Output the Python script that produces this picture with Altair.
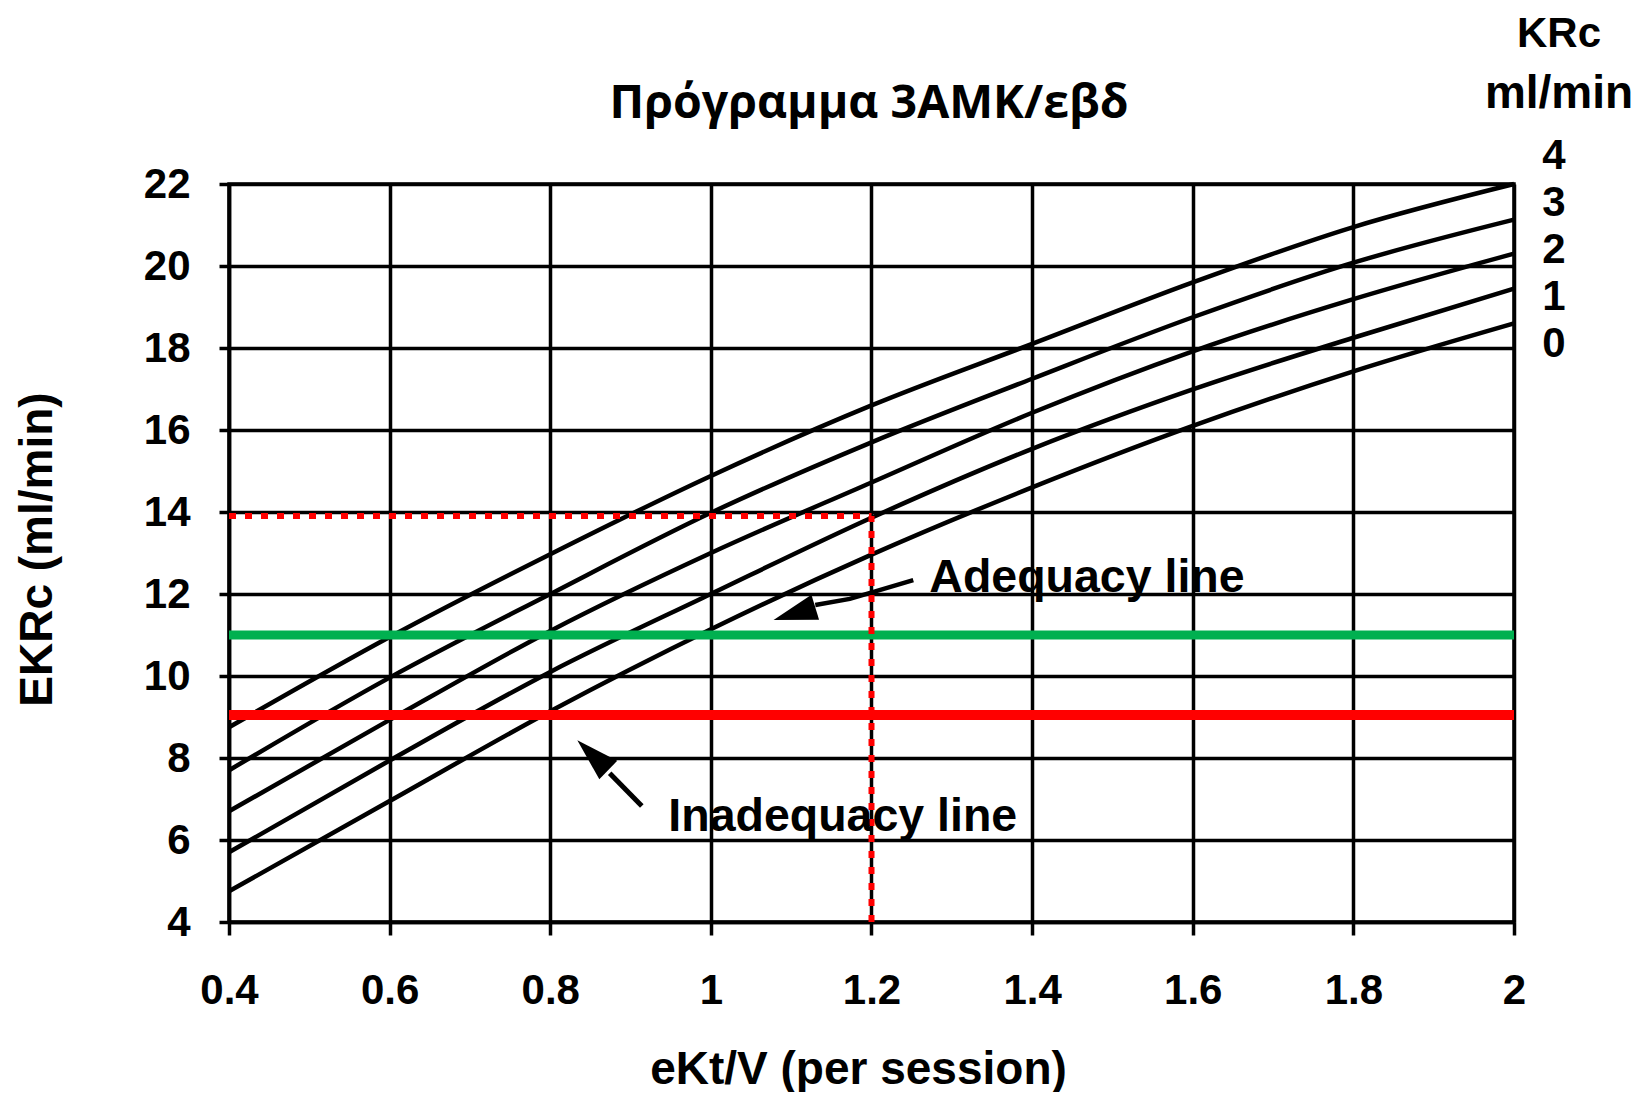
import altair as alt
import pandas as pd

# ---- data ----
ektv = [0.4, 0.6, 0.8, 1.0, 1.2, 1.4, 1.6, 1.8, 2.0]
krc_levels = ["4", "3", "2", "1", "0"]
ekrc_krc4 = [8.75, 10.95, 12.97, 14.88, 16.6, 18.1, 19.6, 20.95, 22.0]
ekrc_krc3 = [7.7, 9.96, 12.0, 13.98, 15.7, 17.25, 18.75, 20.08, 21.13]
ekrc_krc2 = [6.7, 8.93, 11.1, 13.0, 14.72, 16.42, 17.92, 19.19, 20.3]
ekrc_krc1 = [5.7, 7.94, 10.1, 12.0, 13.86, 15.54, 16.99, 18.25, 19.45]
ekrc_krc0 = [4.75, 6.95, 9.14, 11.14, 12.96, 14.6, 16.1, 17.43, 18.6]

adequacy_level = 11.0
inadequacy_level = 9.05
example_ektv = 1.2
example_ekrc = 13.9

x_ticks = [0.4, 0.6, 0.8, 1.0, 1.2, 1.4, 1.6, 1.8, 2.0]
y_ticks = [4, 6, 8, 10, 12, 14, 16, 18, 20, 22]

title_text = "Πρόγραμμα 3ΑΜΚ/εβδ"
x_title = "eKt/V (per session)"
y_title = "EKRc (ml/min)"
legend_head = ["KRc", "ml/min"]

# annotation anchors (data coordinates)
adequacy_label = {"x": 1.272, "y": 12.05, "t": "Adequacy line"}
inadequacy_label = {"x": 0.947, "y": 6.22, "t": "Inadequacy line"}
adequacy_shaft_x = [1.130, 1.173, 1.211, 1.252]
adequacy_shaft_y = [11.73, 11.88, 12.10, 12.34]
adequacy_head = {"x": 1.104, "y": 11.52}
inadequacy_shaft_x = [0.874, 0.914]
inadequacy_shaft_y = [7.63, 6.83]
inadequacy_head = {"x": 0.853, "y": 8.07}

# ---- build tables ----
rows = []
for lvl, vals in zip(krc_levels, [ekrc_krc4, ekrc_krc3, ekrc_krc2, ekrc_krc1, ekrc_krc0]):
    for xv, yv in zip(ektv, vals):
        rows.append({"eKtV": xv, "EKRc": yv, "KRc": lvl})
curves_df = pd.DataFrame(rows)

W, H = 1285, 738
FONT = "Liberation Sans"
xscale = alt.Scale(domain=[x_ticks[0], x_ticks[-1]], nice=False, zero=False)
yscale = alt.Scale(domain=[y_ticks[0], y_ticks[-1]], nice=False, zero=False)

xaxis = alt.Axis(values=x_ticks, format="~g", title=x_title, labelFlush=False,
                 tickSize=13, labelPadding=35, titleX=629, titleY=161,
                 titleBaseline="alphabetic", titleAlign="center", titleFontSize=46)
yaxis = alt.Axis(values=y_ticks, title=y_title, labelFlush=False, tickSize=10,
                 labelPadding=29, titleAngle=270, titleX=-192, titleY=365,
                 titleAlign="center", titleBaseline="middle", titleFontSize=46)

curves = alt.Chart(curves_df).mark_line(color="black", strokeWidth=4.5, interpolate="monotone").encode(
    x=alt.X("eKtV:Q", scale=xscale, axis=xaxis),
    y=alt.Y("EKRc:Q", scale=yscale, axis=yaxis),
    detail="KRc:N",
)

hl_df = pd.DataFrame({"x": [x_ticks[0], x_ticks[0]], "x2": [x_ticks[-1], x_ticks[-1]],
                      "y": [adequacy_level, inadequacy_level], "kind": ["adequacy", "inadequacy"]})
green = alt.Chart(hl_df[hl_df.kind == "adequacy"]).mark_rule(color="#00b050", strokeWidth=9).encode(
    x="x:Q", x2="x2:Q", y="y:Q")
red = alt.Chart(hl_df[hl_df.kind == "inadequacy"]).mark_rule(color="#ff0000", strokeWidth=10).encode(
    x="x:Q", x2="x2:Q", y="y:Q")

ex_df = pd.DataFrame({"x": [x_ticks[0]], "xe": [example_ektv], "y0": [y_ticks[0]], "ye": [example_ekrc]})
dot_h = alt.Chart(ex_df).mark_rule(color="#ff0000", strokeWidth=6, strokeDash=[7, 9]).encode(
    x="x:Q", x2="xe:Q", y="ye:Q")
dot_v = alt.Chart(ex_df).mark_rule(color="#ff0000", strokeWidth=6, strokeDash=[7, 9]).encode(
    x="xe:Q", y="y0:Q", y2="ye:Q")

ad_shaft = alt.Chart(pd.DataFrame({"x": adequacy_shaft_x, "y": adequacy_shaft_y, "o": range(4)})).mark_line(
    color="black", strokeWidth=4.5).encode(x="x:Q", y="y:Q", order="o:Q")
in_shaft = alt.Chart(pd.DataFrame({"x": inadequacy_shaft_x, "y": inadequacy_shaft_y, "o": range(2)})).mark_line(
    color="black", strokeWidth=5).encode(x="x:Q", y="y:Q", order="o:Q")

HEAD = "M-1,0L1,-0.6L1,0.6Z"
ad_head = alt.Chart(pd.DataFrame([adequacy_head])).mark_point(
    shape=HEAD, filled=True, color="black", opacity=1, size=1900, angle=343, strokeWidth=0).encode(
    x="x:Q", y="y:Q")
in_head = alt.Chart(pd.DataFrame([inadequacy_head])).mark_point(
    shape=HEAD, filled=True, color="black", opacity=1, size=1850, angle=44, strokeWidth=0).encode(
    x="x:Q", y="y:Q")

ad_text = alt.Chart(pd.DataFrame([adequacy_label])).mark_text(
    font=FONT, fontSize=46.5, fontWeight="bold", align="left", baseline="alphabetic", color="black").encode(
    x="x:Q", y="y:Q", text="t:N")
in_text = alt.Chart(pd.DataFrame([inadequacy_label])).mark_text(
    font=FONT, fontSize=46.5, fontWeight="bold", align="left", baseline="alphabetic", color="black").encode(
    x="x:Q", y="y:Q", text="t:N")

# chart heading (pixel position relative to the plot area)
heading = alt.Chart(pd.DataFrame({"t": [title_text]})).mark_text(
    font="Open Sans", fontSize=46.5, fontWeight="bold", align="center", baseline="alphabetic",
    color="black").encode(text="t:N", x=alt.value(640), y=alt.value(-66))

# right-hand KRc labels (pixel positions relative to the plot area)
side_layers = []
head_y = [-137, -76]
head_size = [42, 46]
for txt, py, fs in zip(legend_head, head_y, head_size):
    side_layers.append(alt.Chart(pd.DataFrame({"t": [txt]})).mark_text(
        font=FONT, fontSize=fs, fontWeight="bold", align="center", baseline="alphabetic", color="black").encode(
        text="t:N", x=alt.value(W + 45), y=alt.value(py)))
for i, lvl in enumerate(krc_levels):
    side_layers.append(alt.Chart(pd.DataFrame({"t": [lvl]})).mark_text(
        font=FONT, fontSize=42, fontWeight="bold", align="center", baseline="alphabetic", color="black").encode(
        text="t:N", x=alt.value(W + 40), y=alt.value(-15 + 47 * i)))

chart = alt.layer(
    curves, green, red, dot_h, dot_v, ad_shaft, ad_head, in_shaft, in_head, ad_text, in_text,
    heading, *side_layers
).properties(
    width=W, height=H,
    padding={"left": 221, "top": 176, "right": 120, "bottom": 170},
    autosize="none",
).configure_axis(
    labelFont=FONT, labelFontSize=42, labelFontWeight="bold", labelColor="black",
    titleFont=FONT, titleFontWeight="bold", titleColor="black",
    grid=True, gridColor="black", gridWidth=3.5, gridOpacity=1,
    domainColor="black", domainWidth=3.5, tickColor="black", tickWidth=3.5,
).configure_view(stroke="black", strokeWidth=3.5)

chart.save("out.html", embed_options={"renderer": "svg", "actions": False})
